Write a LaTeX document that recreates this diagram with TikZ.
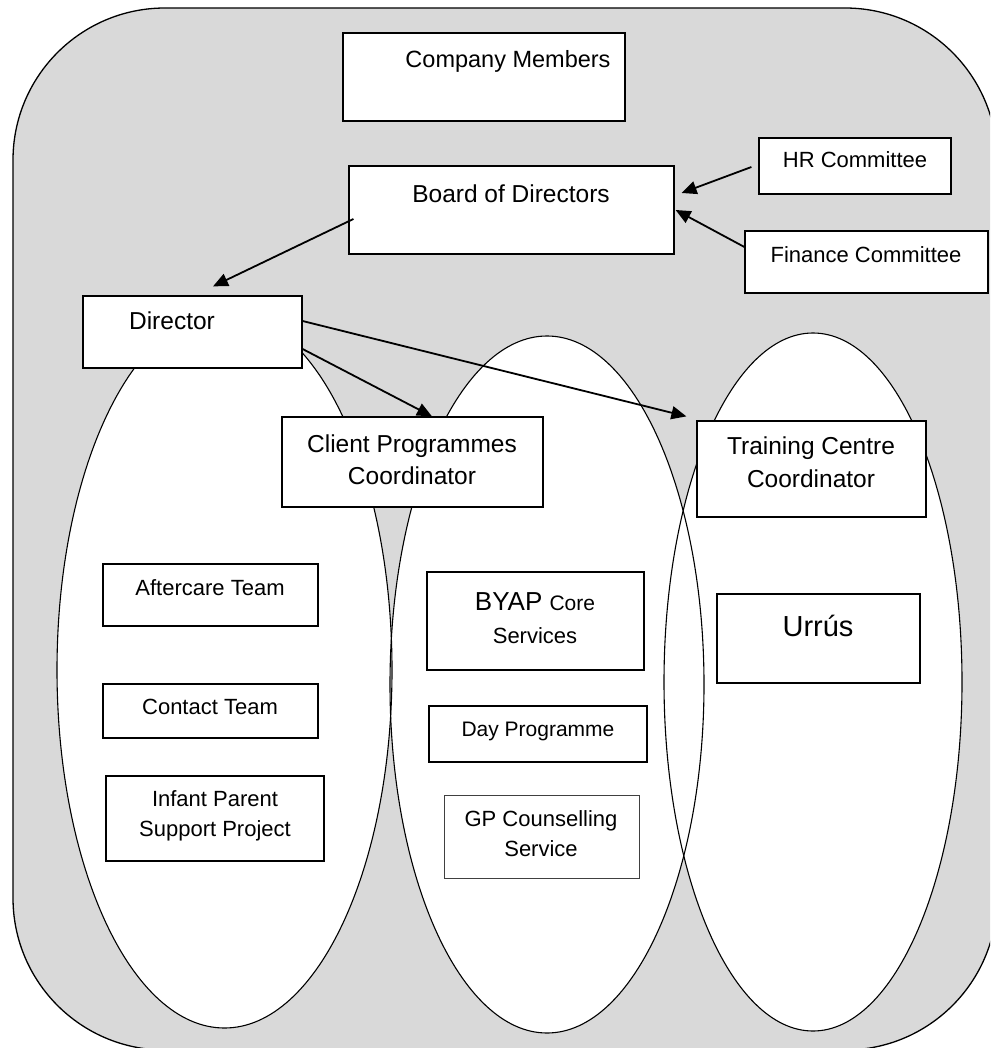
\documentclass[tikz,border=0pt]{standalone}
\usepackage{fontspec}
\setmainfont{Liberation Sans}
\usetikzlibrary{arrows.meta,calc}
\definecolor{bggray}{RGB}{217,217,217}
\tikzset{
  box/.style={draw=black, fill=white, line width=1.2pt, inner sep=0pt, shape=rectangle},
  thinbox/.style={box, draw=black!75, line width=0.9pt},
  lbl/.style={anchor=base, inner sep=0pt, align=center},
  big/.style={font=\fontsize{24.5}{32.5}\selectfont},
  mid/.style={font=\fontsize{22}{30}\selectfont},
  arr/.style={line width=1.8pt, -{Triangle[length=15pt,width=13pt]}},
  oval/.style={draw=black, line width=1.1pt}
}
\begin{document}
\begin{tikzpicture}[x=1pt,y=-1pt]
\useasboundingbox (0,0) rectangle (990,1048);
\clip (0,0) rectangle (990,1048);
% background
\draw[fill=bggray, line width=1.3pt, rounded corners=152pt] (13,8) rectangle (997,1050);
% ellipses: fill first, then outlines
\fill[white] (224.5,670) ellipse [x radius=167.5, y radius=358];
\fill[white] (547,684.5) ellipse [x radius=157, y radius=348.5];
\fill[white] (813,682) ellipse [x radius=149, y radius=349];
\draw[oval] (224.5,670) ellipse [x radius=167.5, y radius=358];
\draw[oval] (547,684.5) ellipse [x radius=157, y radius=348.5];
\draw[oval] (813,682) ellipse [x radius=149, y radius=349];
% boxes
\node[box, minimum width=282pt, minimum height=88pt] (cm) at (484,77) {};
\node[box, minimum width=325pt, minimum height=88pt] (board) at (511.5,210) {};
\node[box, minimum width=192pt, minimum height=56pt] (hr) at (855,166) {};
\node[box, minimum width=243pt, minimum height=62pt] (fin) at (866.5,262) {};
\node[box, minimum width=219pt, minimum height=72pt] (dir) at (192.5,332) {};
\node[box, minimum width=261pt, minimum height=90pt] (cpc) at (412.5,462) {};
\node[box, minimum width=229pt, minimum height=96pt] (tcc) at (811.5,469) {};
\node[box, minimum width=203pt, minimum height=89pt] (urr) at (818.5,638.5) {};
\node[box, minimum width=217pt, minimum height=98pt] (byap) at (535.5,621) {};
\node[box, minimum width=218pt, minimum height=56pt] (day) at (538,734) {};
\node[thinbox, minimum width=195pt, minimum height=83pt] (gp) at (541.5,836.5) {};
\node[box, minimum width=215pt, minimum height=62pt] (after) at (210.5,595) {};
\node[box, minimum width=215pt, minimum height=54pt] (contact) at (210.5,711) {};
\node[box, minimum width=218pt, minimum height=85pt] (infant) at (215,818.5) {};
% labels
\node[lbl, font=\fontsize{23.5}{31}\selectfont] (cmt) at (508,68) {Company Members};
\node[lbl, big] (boardt) at (511,203) {Board of Directors};
\node[lbl, mid] (hrt) at (855,168) {HR Committee};
\node[lbl, mid] (fint) at (866,263) {Finance Committee};
\node[lbl, big] (dirt) at (172,329) {Director};
\node[lbl, big] (cpct1) at (412,452) {Client Programmes};
\node[lbl, big] (cpct2) at (412,484) {Coordinator};
\node[lbl, big] (tcct1) at (811,454) {Training Centre};
\node[lbl, big] (tcct2) at (811,487) {Coordinator};
\node[lbl, font=\fontsize{29}{34}\selectfont] (urrt) at (818,636) {Urrús};
\node[lbl] (byapt1) at (535,610) {\fontsize{26}{30}\selectfont BYAP \fontsize{21}{30}\selectfont Core};
\node[lbl, mid] (byapt2) at (535,643) {Services};
\node[lbl, font=\fontsize{21}{28}\selectfont] (dayt) at (538,736) {Day Programme};
\node[lbl, mid] (gpt1) at (541,826) {GP Counselling};
\node[lbl, mid] (gpt2) at (541,856) {Service};
\node[lbl, mid] (aftert) at (210,595) {Aftercare Team};
\node[lbl, mid] (contactt) at (210,714) {Contact Team};
\node[lbl, mid] (infantt1) at (215,806) {Infant Parent};
\node[lbl, mid] (infantt2) at (215,836) {Support Project};
% arrows
\draw[arr] ($(hr.west)+(-7,1)$) -- ($(board.east)+(7,-17)$);
\draw[arr] ($(fin.west)+(0,-15)$) -- ($(board.east)+(1,0)$);
\draw[arr] ($(board.west)+(5,9)$) -- ($(dir.north)+(20.5,-9)$);
\draw[arr] ($(dir.east)+(0,17)$) -- ($(cpc.north)+(19.5,0)$);
\draw[arr] ($(dir.east)+(0,-11)$) -- ($(tcc.north west)+(-10,-4)$);
\end{tikzpicture}
\end{document}
